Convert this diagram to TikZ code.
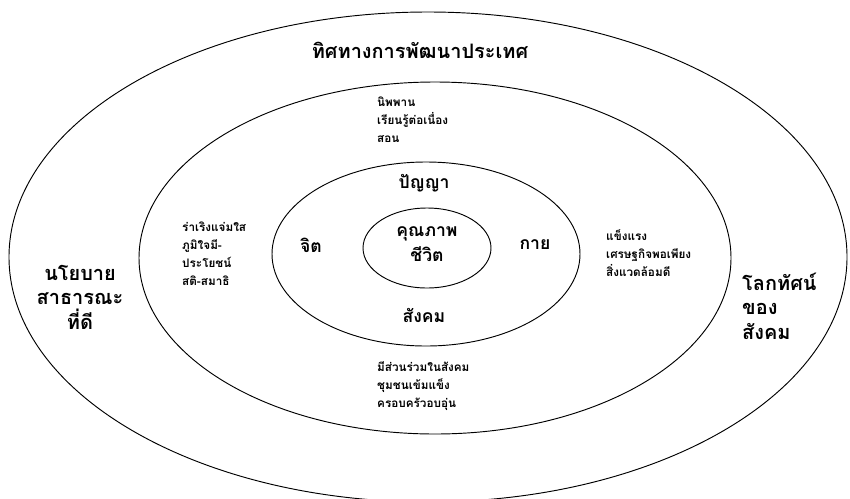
\documentclass[tikz,border=0pt]{standalone}
\usepackage{fontspec}
\newfontfamily\thaifont[Script=Thai]{Loma}
\usetikzlibrary{positioning}

\tikzset{
  ring/.style={line width=0.8pt},
  bigtext/.style={font=\thaifont\bfseries\fontsize{17}{21}\selectfont, align=center, inner sep=0pt},
  midtext/.style={font=\thaifont\bfseries\fontsize{15}{21}\selectfont, align=center, inner sep=0pt},
  listtext/.style={font=\thaifont\bfseries\fontsize{10}{15.3}\selectfont, align=left, anchor=west, inner sep=0pt},
}

\begin{document}
\begin{tikzpicture}[x=0.03cm, y=-0.03cm]
\useasboundingbox (0,0) rectangle (850,498);

% rings
\draw[ring] (428,257) ellipse [x radius=419, y radius=245];
\draw[ring] (435,258) ellipse [x radius=296, y radius=176];
\draw[ring] (426,254) ellipse [x radius=154, y radius=92];
\draw[ring] (427,248) ellipse [x radius=64, y radius=40];

% outer ring
\node[bigtext] (direction) at (420,50) {ทิศทางการพัฒนาประเทศ};
\node[bigtext] (policy) at (80,297) {นโยบาย\\สาธารณะ\\ที่ดี};
\node[bigtext, align=left, anchor=west] (worldview) at (742,306) {โลกทัศน์\\ของ\\สังคม};

% middle ring
\node[listtext] (spiritlist) at (377,120) {นิพพาน\\เรียนรู้ต่อเนื่อง\\สอน};
\node[listtext] (mindlist) at (182,254) {ร่าเริงแจ่มใส\\ภูมิใจมี-\\ประโยชน์\\สติ-สมาธิ};
\node[listtext] (bodylist) at (606,253) {แข็งแรง\\เศรษฐกิจพอเพียง\\สิ่งแวดล้อมดี};
\node[listtext] (sociallist) at (377,386) {มีส่วนร่วมในสังคม\\ชุมชนเข้มแข็ง\\ครอบครัวอบอุ่น};

% inner ring
\node[midtext] (wisdom) at (424,183) {ปัญญา};
\node[midtext] (mind) at (311,245) {จิต};
\node[midtext] (body) at (535,245) {กาย};
\node[midtext] (society) at (424,315) {สังคม};

% centre
\node[midtext] (quality) at (427,244) {คุณภาพ\\ชีวิต};
\end{tikzpicture}
\end{document}
